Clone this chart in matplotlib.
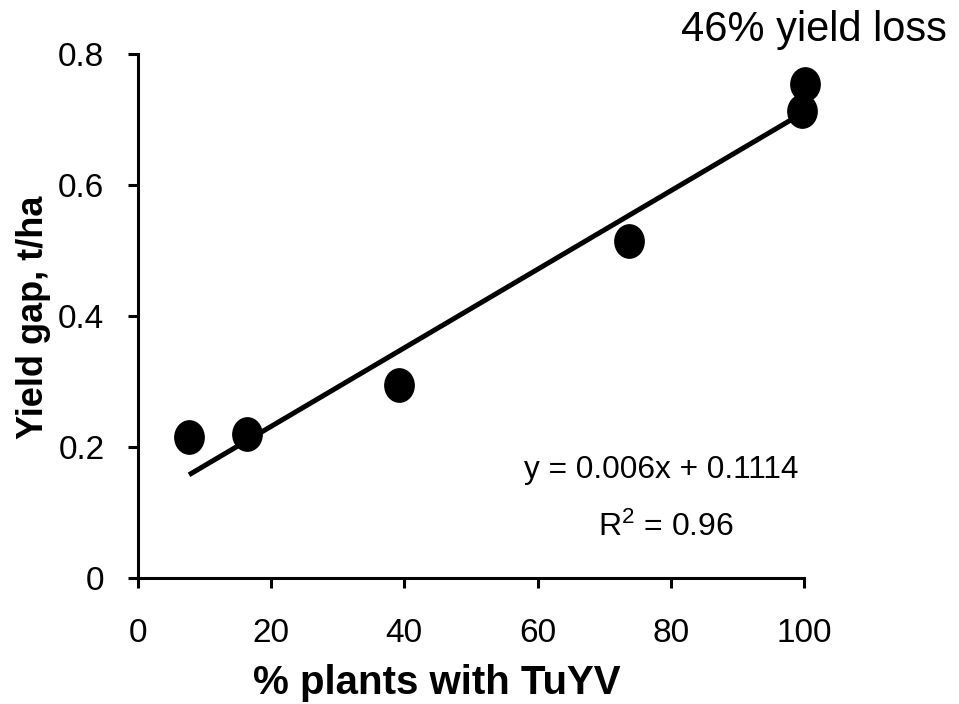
import matplotlib
matplotlib.use("Agg")
import matplotlib.pyplot as plt
import numpy as np
from matplotlib.path import Path
from matplotlib.transforms import Affine2D

plt.rcParams['font.family'] = ['Liberation Sans', 'DejaVu Sans']

# Data
pct_plants = [7.7, 16.4, 39.2, 73.8, 99.7, 100.2]
yield_gap = [0.215, 0.220, 0.295, 0.515, 0.714, 0.754]
slope = 0.006
intercept = 0.1114
fit_x = [7.7, 99.7]
x_ticks = [0, 20, 40, 60, 80, 100]
y_ticks = [0, 0.2, 0.4, 0.6, 0.8]
y_tick_labels = ['0', '0.2', '0.4', '0.6', '0.8']

fig = plt.figure(figsize=(9.59, 7.04), dpi=100)
ax = fig.add_axes([0.1436, 0.179, 0.8384 - 0.1436, 0.923 - 0.179])

fx = np.array(fit_x)
ax.plot(fx, slope * fx + intercept, color='black', lw=3.6, solid_capstyle='butt', zorder=2)

ell = Path.unit_circle().transformed(Affine2D().scale(0.88, 1.0))
ax.plot(pct_plants, yield_gap, linestyle='none', marker=ell, markersize=24,
        color='black', zorder=3, clip_on=False)

ax.set_xlim(0, 100)
ax.set_ylim(0, 0.8)
ax.set_xticks(x_ticks)
ax.set_yticks(y_ticks)
ax.set_yticklabels(y_tick_labels)
for s in ['top', 'right']:
    ax.spines[s].set_visible(False)
for s in ['left', 'bottom']:
    ax.spines[s].set_linewidth(2.2)
ax.tick_params(axis='both', direction='out', length=7, width=2.2, labelsize=24)
ax.tick_params(axis='y', pad=17)
ax.tick_params(axis='x', pad=22)

ax.set_xlabel('% plants with TuYV', fontsize=29, fontweight='bold', va='center')
ax.xaxis.set_label_coords(0.449, -0.20)
ax.set_ylabel('Yield gap, t/ha', fontsize=26, fontweight='bold', va='center')
ax.yaxis.set_label_coords(-0.157, 0.498)

ax.text(78.6, 0.165, 'y = 0.006x + 0.1114', fontsize=22.8, ha='center', va='center')
ax.text(79.3, 0.078, '$\\mathregular{R^2}$ = 0.96', fontsize=23, ha='center', va='center')
fig.text(814 / 959, 1 - 30 / 704, '46% yield loss', fontsize=30, ha='center', va='center')

fig.savefig('out.png', dpi=100)
